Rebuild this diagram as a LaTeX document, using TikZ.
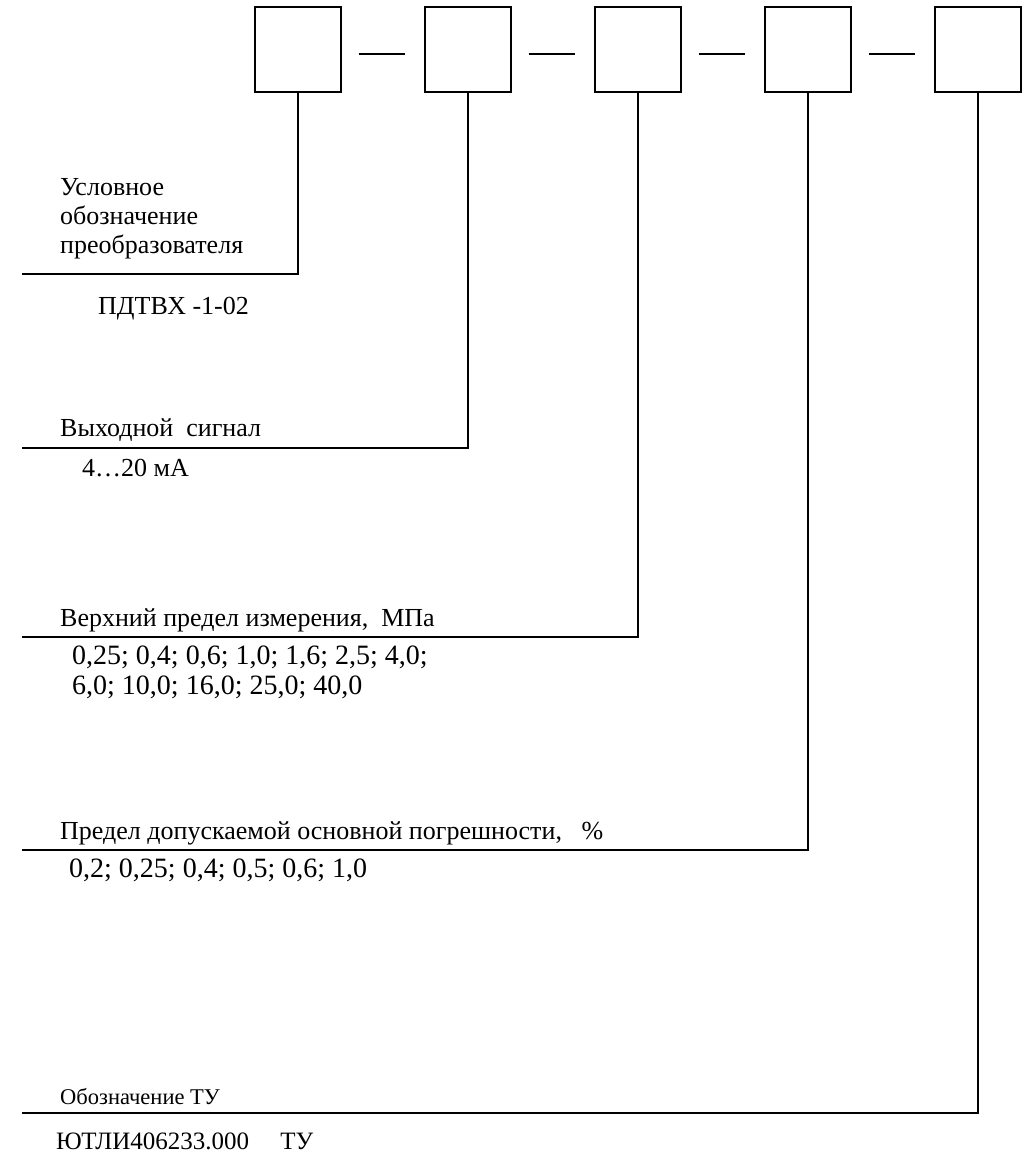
\documentclass[tikz,border=0pt]{standalone}
\usepackage{fontspec}
\setmainfont{Liberation Serif}
\usetikzlibrary{positioning, calc}

\begin{document}
\begin{tikzpicture}[
        x=1pt, y=-1pt,
        font=\fontsize{26}{30}\selectfont,
        cell/.style={
          draw,
          line width=1.3pt,
          minimum width=86pt,
          minimum height=85pt,
          inner sep=0pt
        },
        lead/.style={line width=1.3pt, draw=black},
        lbl/.style={anchor=base west, inner sep=0pt, align=left},
        val/.style={lbl, font=\fontsize{28}{30}\selectfont}
      ]
      \useasboundingbox (0,0) rectangle (1025,1156);

      % code cells and dashes
      \foreach \i in {1,...,5} {
        \node[cell] (b\i) at ({298+170*(\i-1)},49.5) {};
      }
      \foreach \i/\j in {1/2,2/3,3/4,4/5} {
        \draw[lead] ($(b\i.east)+(17,4.5)$) -- ($(b\j.west)+(-19,4.5)$);
      }

      % free ends of the leaders
      \coordinate (e1) at (22,274);
      \coordinate (e2) at (22,448);
      \coordinate (e3) at (22,637);
      \coordinate (e4) at (22,850);
      \coordinate (e5) at (22,1113);

      \draw[lead] (b1.south) |- (e1);
      \draw[lead] (b2.south) |- (e2);
      \draw[lead] (b3.south) |- (e3);
      \draw[lead] (b4.south) |- (e4);
      \draw[lead] (b5.south) |- (e5);

      % labels
      \node[lbl] (t1a) at (60,195) {Условное};
      \node[lbl] (t1b) at (60,224) {обозначение};
      \node[lbl] (t1c) at (60,253) {преобразователя};
      \node[lbl] (v1) at (98,314) {ПДТВХ -1-02};

      \node[lbl] (t2) at (60,436) {Выходной\ \ сигнал};
      \node[lbl] (v2) at (82,476) {4…20 мА};

      \node[lbl] (t3) at (60,626) {Верхний предел измерения,\ \ МПа};
      \node[val] (v3a) at (72,664) {0,25; 0,4; 0,6; 1,0; 1,6; 2,5; 4,0;};
      \node[val] (v3b) at (72,694) {6,0; 10,0; 16,0; 25,0; 40,0};

      \node[lbl] (t4) at (60,839) {Предел допускаемой основной погрешности,\ \ \ \%};
      \node[val] (v4) at (69,877) {0,2; 0,25; 0,4; 0,5; 0,6; 1,0};

      \node[lbl, font=\fontsize{22.5}{30}\selectfont] (t5) at (60,1104) {Обозначение ТУ};
      \node[lbl, font=\fontsize{25}{30}\selectfont] (v5) at (56,1149) {ЮТЛИ406233.000\ \ \ \ \ ТУ};
    \end{tikzpicture}
\end{document}
